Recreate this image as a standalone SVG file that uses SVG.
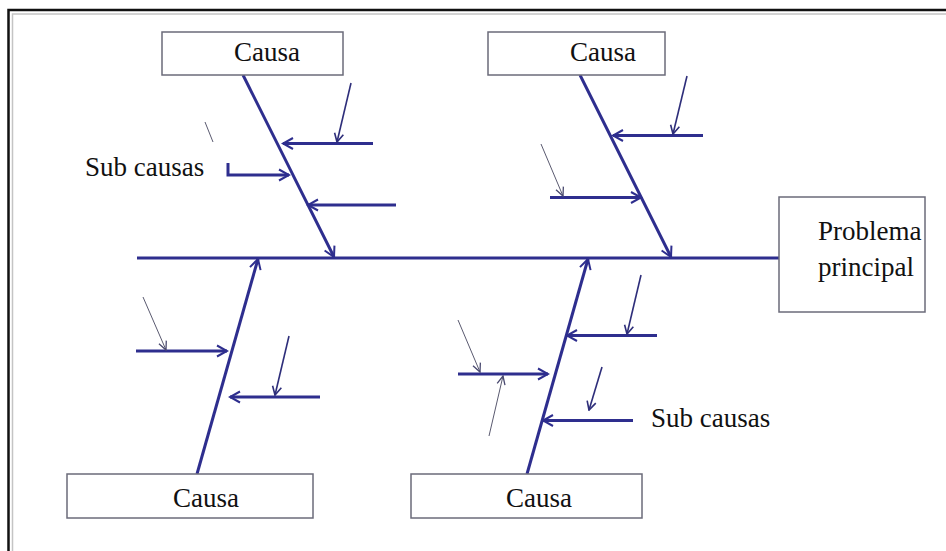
<svg xmlns="http://www.w3.org/2000/svg" width="946" height="551" viewBox="0 0 946 551">
  <style>
    .box { fill: #ffffff; stroke: #6b6b7a; stroke-width: 1.5; }
    .lbl { font-family: "Liberation Serif", "Times New Roman", serif; font-size: 27px; fill: #111111; }
    .bone { stroke: #2e2e8e; stroke-width: 3; fill: none; }
    .sub { stroke: #2e2e8e; stroke-width: 3; fill: none; }
    .twig { stroke: #2e2e7a; stroke-width: 1.6; fill: none; }
    .hair { stroke: #5a5a70; stroke-width: 1; fill: none; }
  </style>
  <defs>
    <marker id="ah" viewBox="0 0 14 14" refX="12" refY="7" markerWidth="14" markerHeight="14" markerUnits="userSpaceOnUse" orient="auto">
      <path d="M2,1.5 L12,7 L2,12.5" fill="none" stroke="#2e2e8e" stroke-width="2"/>
    </marker>
    <marker id="ahs" viewBox="0 0 12 12" refX="10.5" refY="6" markerWidth="12" markerHeight="12" markerUnits="userSpaceOnUse" orient="auto">
      <path d="M2,1.5 L10.5,6 L2,10.5" fill="none" stroke="#2e2e7a" stroke-width="1.6"/>
    </marker>
    <marker id="aht" viewBox="0 0 12 12" refX="10.5" refY="6" markerWidth="12" markerHeight="12" markerUnits="userSpaceOnUse" orient="auto">
      <path d="M2,2 L10.5,6 L2,10" fill="none" stroke="#4a4a70" stroke-width="1.3"/>
    </marker>
  </defs>

  <rect x="0" y="0" width="946" height="551" fill="#ffffff"/>

  <!-- page frame (top and left edges) -->
  <g id="frame">
    <path d="M8.5,551 L8.5,10 L946,10" fill="none" stroke="#111111" stroke-width="2.5"/>
    <path d="M12.5,551 L12.5,14 L946,14" fill="none" stroke="#c4c4c4" stroke-width="1.5"/>
  </g>

  <!-- connectors: spine, main bones, sub-cause arrows -->
  <g id="connectors">
    <line class="bone" x1="137" y1="258" x2="779" y2="258"/>

    <!-- upper-left bone -->
    <line class="bone" x1="243" y1="75" x2="334" y2="257" marker-end="url(#ah)"/>
    <line class="sub" x1="373" y1="143.5" x2="283" y2="143.5" marker-end="url(#ah)"/>
    <line class="twig" x1="351" y1="83" x2="337" y2="142" marker-end="url(#ahs)"/>
    <path class="sub" d="M228,163 L228,175 L289,175" marker-end="url(#ah)"/>
    <line class="hair" x1="205" y1="122" x2="213" y2="142"/>
    <line class="sub" x1="396" y1="205" x2="308" y2="205" marker-end="url(#ah)"/>

    <!-- upper-right bone -->
    <line class="bone" x1="580" y1="75" x2="671" y2="257" marker-end="url(#ah)"/>
    <line class="sub" x1="703" y1="135.5" x2="613" y2="135.5" marker-end="url(#ah)"/>
    <line class="twig" x1="687" y1="76" x2="673" y2="134" marker-end="url(#ahs)"/>
    <line class="sub" x1="550" y1="197.5" x2="641" y2="197.5" marker-end="url(#ah)"/>
    <line class="hair" x1="541" y1="144" x2="563" y2="196" marker-end="url(#aht)"/>

    <!-- lower-left bone -->
    <line class="bone" x1="197" y1="474" x2="258" y2="259" marker-end="url(#ah)"/>
    <line class="sub" x1="136" y1="351" x2="227" y2="351" marker-end="url(#ah)"/>
    <line class="hair" x1="143" y1="297" x2="166" y2="350" marker-end="url(#aht)"/>
    <line class="sub" x1="320" y1="397" x2="230" y2="397" marker-end="url(#ah)"/>
    <line class="twig" x1="289" y1="336" x2="275" y2="395" marker-end="url(#ahs)"/>

    <!-- lower-right bone -->
    <line class="bone" x1="527" y1="474" x2="588" y2="259" marker-end="url(#ah)"/>
    <line class="sub" x1="657" y1="335.5" x2="567" y2="335.5" marker-end="url(#ah)"/>
    <line class="twig" x1="641" y1="275" x2="627" y2="334" marker-end="url(#ahs)"/>
    <line class="sub" x1="458" y1="374" x2="548" y2="374" marker-end="url(#ah)"/>
    <line class="hair" x1="458" y1="320" x2="480" y2="372" marker-end="url(#aht)"/>
    <line class="hair" x1="489" y1="436" x2="503" y2="376" marker-end="url(#aht)"/>
    <line class="sub" x1="633" y1="420.5" x2="543" y2="420.5" marker-end="url(#ah)"/>
    <line class="twig" x1="602" y1="367" x2="589" y2="410" marker-end="url(#ahs)"/>
  </g>

  <!-- cause boxes -->
  <g id="causa-top-left">
    <rect class="box" x="162" y="32" width="181" height="43"/>
    <text class="lbl" x="234" y="61">Causa</text>
  </g>
  <g id="causa-top-right">
    <rect class="box" x="488" y="32" width="177" height="43"/>
    <text class="lbl" x="570" y="61">Causa</text>
  </g>
  <g id="causa-bottom-left">
    <rect class="box" x="67" y="474" width="246" height="44"/>
    <text class="lbl" x="173" y="507">Causa</text>
  </g>
  <g id="causa-bottom-right">
    <rect class="box" x="411" y="474" width="231" height="44"/>
    <text class="lbl" x="506" y="507">Causa</text>
  </g>

  <!-- effect box -->
  <g id="problema-principal">
    <rect class="box" x="779" y="197" width="146" height="115"/>
    <text class="lbl" x="818" y="240">Problema</text>
    <text class="lbl" x="818" y="276">principal</text>
  </g>

  <!-- sub-cause labels -->
  <g id="label-sub-causas-1">
    <text class="lbl" x="85" y="176">Sub causas</text>
  </g>
  <g id="label-sub-causas-2">
    <text class="lbl" x="651" y="427">Sub causas</text>
  </g>
</svg>
